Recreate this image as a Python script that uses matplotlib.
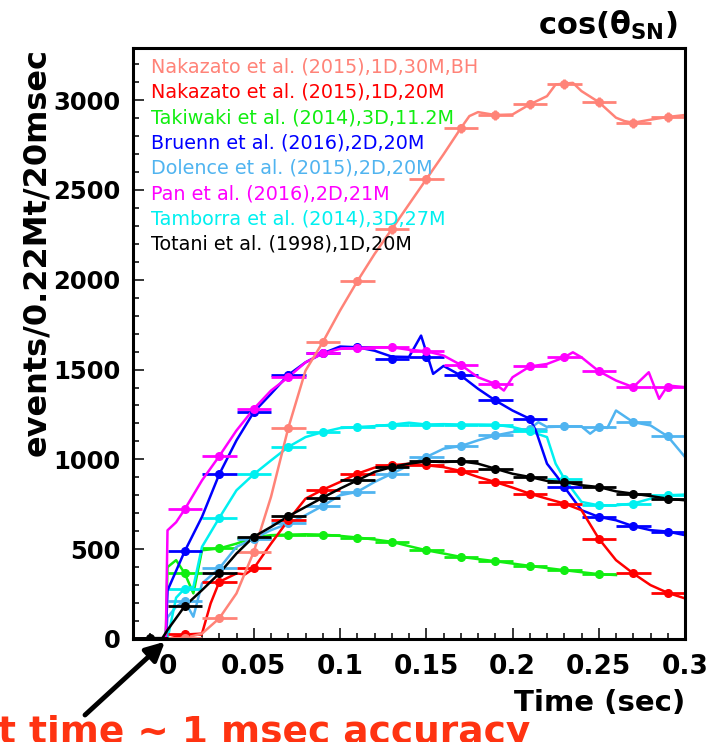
import numpy as np
import matplotlib.pyplot as plt
from matplotlib.ticker import MultipleLocator

plt.rcParams['font.family'] = ['DejaVu Sans']
plt.rcParams['mathtext.fontset'] = 'dejavusans'

# bin centres of the 20 msec histogram points
bins = [0.01, 0.03, 0.05, 0.07, 0.09, 0.11, 0.13, 0.15, 0.17, 0.19, 0.21, 0.23, 0.25, 0.27, 0.29]

# Nakazato et al. (2015), 1D, 30M, BH
t_naka30 = [-0.02, 0.0, 0.01, 0.02, 0.03, 0.04, 0.05, 0.06, 0.07, 0.08, 0.09, 0.10, 0.11, 0.12,
            0.13, 0.14, 0.15, 0.16, 0.17, 0.175, 0.18, 0.19, 0.20, 0.21, 0.22, 0.225, 0.235, 0.24,
            0.25, 0.26, 0.265, 0.27, 0.28, 0.29, 0.30]
naka30 = [0, 0, 5, 30, 115, 254, 485, 791, 1174, 1494, 1652, 1828, 1991, 2143,
          2281, 2420, 2559, 2698, 2843, 2911, 2933, 2917, 2920, 2976, 3022, 3087, 3096, 3050,
          2989, 2902, 2883, 2874, 2891, 2906, 2917]
naka30_pts = [5, 115, 485, 1174, 1652, 1991, 2281, 2559, 2843, 2917, 2976, 3087, 2989, 2874, 2906]

# Nakazato et al. (2015), 1D, 20M
t_naka20 = [-0.02, 0.0, 0.01, 0.02, 0.025, 0.03, 0.04, 0.045, 0.05, 0.06, 0.07, 0.08, 0.09, 0.10,
            0.11, 0.12, 0.13, 0.14, 0.15, 0.16, 0.17, 0.18, 0.19, 0.20, 0.21, 0.22, 0.23, 0.24,
            0.25, 0.26, 0.27, 0.28, 0.29, 0.30]
naka20 = [0, 0, 25, 30, 198, 318, 365, 360, 393, 531, 661, 781, 831, 874,
          920, 954, 967, 976, 967, 957, 935, 902, 874, 843, 809, 781, 754, 717,
          559, 439, 365, 300, 257, 226]
naka20_pts = [28, 318, 393, 661, 831, 920, 967, 967, 935, 874, 809, 754, 559, 365, 257]

# Takiwaki et al. (2014), 3D, 11.2M
t_taki = [-0.02, -0.001, 0.0, 0.005, 0.01, 0.015, 0.02, 0.03, 0.04, 0.05, 0.06, 0.07, 0.08, 0.09,
          0.10, 0.11, 0.12, 0.13, 0.14, 0.15, 0.16, 0.17, 0.18, 0.19, 0.20, 0.21, 0.22, 0.23,
          0.24, 0.25, 0.26]
taki = [0, 0, 400, 439, 365, 254, 494, 504, 531, 565, 578, 581, 583, 581,
        574, 565, 554, 541, 517, 494, 476, 457, 445, 433, 420, 407, 395, 383,
        372, 361, 356]
taki_pts = [365, 504, 565, 581, 581, 565, 541, 494, 457, 433, 407, 383, 361, np.nan, np.nan]

# Bruenn et al. (2016), 2D, 20M
t_bruenn = [-0.02, -0.001, 0.0, 0.01, 0.02, 0.03, 0.04, 0.05, 0.06, 0.07, 0.08, 0.09, 0.10, 0.11,
            0.12, 0.13, 0.14, 0.147, 0.154, 0.16, 0.17, 0.18, 0.19, 0.20, 0.21, 0.2135, 0.22,
            0.226, 0.23, 0.24, 0.25, 0.26, 0.27, 0.28, 0.29, 0.30]
bruenn = [0, 0, 270, 489, 680, 917, 1106, 1263, 1365, 1470, 1540, 1590, 1628, 1624,
          1605, 1572, 1570, 1689, 1476, 1520, 1467, 1393, 1328, 1272, 1226, 1161, 976,
          902, 846, 717, 680, 661, 628, 606, 598, 578]
bruenn_pts = [489, 917, 1263, 1470, 1590, 1624, 1559, 1568, 1467, 1328, 1226, 846, 680, 628, 598]

# Dolence et al. (2015), 2D, 20M
t_dolence = [-0.02, -0.001, 0.0, 0.005, 0.01, 0.015, 0.02, 0.03, 0.04, 0.05, 0.06, 0.07, 0.08,
             0.09, 0.10, 0.11, 0.12, 0.13, 0.14, 0.15, 0.16, 0.17, 0.18, 0.19, 0.20, 0.21,
             0.215, 0.22, 0.23, 0.24, 0.245, 0.25, 0.255, 0.26, 0.27, 0.28, 0.29, 0.30]
dolence = [0, 0, 120, 180, 210, 124, 309, 393, 513, 559, 606, 643, 689,
           741, 800, 819, 874, 920, 967, 1013, 1059, 1074, 1106, 1133, 1152, 1170,
           1207, 1180, 1183, 1183, 1143, 1180, 1175, 1272, 1207, 1189, 1128, 1013]
dolence_pts = [210, 393, 559, 643, 741, 819, 920, 1013, 1074, 1133, 1170, 1183, 1180, 1207, 1128]

# Pan et al. (2016), 2D, 21M
t_pan = [-0.02, -0.001, 0.0, 0.005, 0.01, 0.02, 0.03, 0.04, 0.05, 0.06, 0.07, 0.08, 0.09, 0.10,
         0.11, 0.12, 0.13, 0.14, 0.15, 0.16, 0.17, 0.18, 0.19, 0.195, 0.20, 0.21, 0.22, 0.23,
         0.235, 0.24, 0.25, 0.26, 0.27, 0.279, 0.285, 0.29, 0.30]
pan = [0, 0, 605, 650, 722, 883, 1018, 1161, 1281, 1383, 1457, 1540, 1590, 1615,
       1620, 1624, 1624, 1610, 1602, 1578, 1526, 1457, 1420, 1383, 1457, 1517, 1531, 1568,
       1596, 1568, 1491, 1439, 1402, 1485, 1337, 1411, 1402]
pan_pts = [722, 1018, 1281, 1457, 1590, 1620, 1624, 1602, 1526, 1420, 1517, 1568, 1491, 1402, 1402]

# Tamborra et al. (2014), 3D, 27M
t_tamborra = [-0.02, -0.001, 0.0, 0.005, 0.01, 0.015, 0.02, 0.03, 0.04, 0.05, 0.06, 0.07, 0.08,
              0.09, 0.10, 0.11, 0.12, 0.13, 0.14, 0.15, 0.16, 0.17, 0.18, 0.19, 0.20, 0.21,
              0.22, 0.225, 0.23, 0.24, 0.25, 0.26, 0.27, 0.28, 0.29, 0.30]
tamborra = [0, 0, 0, 230, 281, 290, 513, 674, 828, 917, 994, 1069, 1124,
            1152, 1174, 1180, 1185, 1193, 1204, 1194, 1196, 1194, 1194, 1193, 1180, 1156,
            1124, 976, 893, 763, 744, 744, 754, 781, 800, 804]
tamborra_pts = [281, 674, 917, 1069, 1152, 1180, 1193, 1194, 1194, 1193, 1156, 893, 744, 754, 800]

# Totani et al. (1998), 1D, 20M
t_totani = [-0.02, -0.01, -0.003, 0.0, 0.01, 0.02, 0.03, 0.04, 0.05, 0.06, 0.07, 0.08, 0.09, 0.10,
            0.11, 0.12, 0.13, 0.14, 0.15, 0.16, 0.17, 0.18, 0.19, 0.20, 0.21, 0.22, 0.23, 0.24,
            0.25, 0.26, 0.27, 0.28, 0.29, 0.30]
totani = [0, 5, 5, 50, 183, 272, 365, 476, 569, 624, 683, 735, 787, 837,
          883, 930, 957, 976, 989, 985, 989, 976, 948, 920, 902, 880, 874, 856,
          846, 822, 809, 796, 781, 772]
totani_bins = [-0.01] + bins
totani_pts = [5, 183, 365, 569, 683, 787, 883, 957, 989, 989, 948, 902, 874, 846, 809, 781]

legend_names = ['Nakazato et al. (2015),1D,30M,BH', 'Nakazato et al. (2015),1D,20M',
                'Takiwaki et al. (2014),3D,11.2M', 'Bruenn et al. (2016),2D,20M',
                'Dolence et al. (2015),2D,20M', 'Pan et al. (2016),2D,21M',
                'Tamborra et al. (2014),3D,27M', 'Totani et al. (1998),1D,20M']
legend_colors = ['#ff8378', '#ff0000', '#11ee11', '#0000ff', '#50b4f0', '#ff00ff', '#00f0f0', '#000000']

# drawing order (last one on top)
series = [
    (t_taki, taki, bins, taki_pts, '#11ee11'),
    (t_dolence, dolence, bins, dolence_pts, '#50b4f0'),
    (t_tamborra, tamborra, bins, tamborra_pts, '#00f0f0'),
    (t_bruenn, bruenn, bins, bruenn_pts, '#0000ff'),
    (t_pan, pan, bins, pan_pts, '#ff00ff'),
    (t_naka20, naka20, bins, naka20_pts, '#ff0000'),
    (t_naka30, naka30, bins, naka30_pts, '#ff8378'),
    (t_totani, totani, totani_bins, totani_pts, '#000000'),
]

fig = plt.figure(figsize=(7.21, 7.42), dpi=100)
ax = fig.add_axes([133 / 721, 1 - 639 / 742, 552 / 721, 591 / 742])

for t, y, bx, by, col in series:
    ax.plot(t, y, color=col, lw=1.8, solid_joinstyle='round')
    by = np.array(by, dtype=float)
    ax.errorbar(bx, by, xerr=0.01, yerr=0.5 * np.sqrt(np.nan_to_num(by)), fmt='o', ms=5.5,
                color=col, ecolor=col, elinewidth=2.0, capsize=0)

ax.set_xlim(-0.02, 0.3)
ax.set_ylim(0, 3290)
ax.set_xticks([0, 0.05, 0.1, 0.15, 0.2, 0.25, 0.3])
ax.set_xticklabels(['0', '0.05', '0.1', '0.15', '0.2', '0.25', '0.3'])
ax.set_yticks([0, 500, 1000, 1500, 2000, 2500, 3000])
ax.xaxis.set_minor_locator(MultipleLocator(0.01))
ax.yaxis.set_minor_locator(MultipleLocator(100))
ax.tick_params(which='both', direction='in', top=False, right=False, width=1.1)
ax.tick_params(which='major', length=8)
ax.tick_params(which='minor', length=4.5)
ax.tick_params(axis='x', which='major', labelsize=19, pad=10.5)
ax.tick_params(axis='y', which='major', labelsize=17.5, pad=9)
for lab in ax.get_xticklabels() + ax.get_yticklabels():
    lab.set_fontweight('bold')
for sp in ax.spines.values():
    sp.set_linewidth(2.2)

ax.set_ylabel('events/0.22Mt/20msec', fontsize=23, fontweight='bold', loc='top')
ax.yaxis.set_label_coords(-0.147, 1.0)
ax.set_xlabel('Time (sec)', fontsize=21, fontweight='bold', loc='right')
ax.xaxis.set_label_coords(1.0, -0.084)

for i, (name, col) in enumerate(zip(legend_names, legend_colors)):
    yc = 67 + 25.3 * i
    ax.text(0.0326, (639 - yc) / 591, name, color=col, fontsize=13.8,
            ha='left', va='center', transform=ax.transAxes)

fig.text(678 / 721, 1 - 35 / 742, r'cos(θ$_\mathbf{SN}$)', fontsize=22, fontweight='bold',
         ha='right', va='baseline')

ax.annotate('', xy=(-0.0015, -15), xycoords='data',
            xytext=(85 / 721, 1 - 715 / 742), textcoords='figure fraction',
            arrowprops=dict(arrowstyle='-|>', color='black', lw=3.5, mutation_scale=28,
                            shrinkA=0, shrinkB=0),
            annotation_clip=False)

fig.text(-2 / 721, -0.002, 't time ~ 1 msec accuracy', color='#ff3311', fontsize=27,
         fontweight='bold', ha='left', va='baseline')

fig.savefig('out.png', dpi=100)
